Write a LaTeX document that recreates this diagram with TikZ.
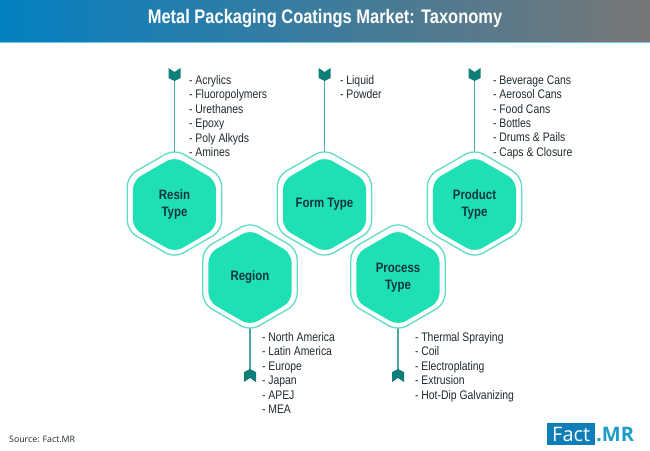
\documentclass[tikz,border=0pt]{standalone}
\usepackage{fontspec}
\setmainfont[FakeStretch=0.84]{Liberation Sans}
\newfontfamily\logofont{Open Sans}
\usetikzlibrary{shapes.geometric,backgrounds}
\definecolor{hexfill}{HTML}{1FE0B5}
\definecolor{hexline}{HTML}{5FDCC4}
\definecolor{stem}{HTML}{4FA6A4}
\definecolor{markc}{HTML}{0E7F78}
\definecolor{hextext}{HTML}{12353A}
\definecolor{listtext}{HTML}{1E2A30}
\definecolor{bandl}{HTML}{0480C2}
\definecolor{bandr}{HTML}{777777}
\definecolor{bandedge}{HTML}{70C8EE}
\definecolor{logoblue}{HTML}{0F7DB8}
\definecolor{logoteal}{HTML}{1C9CC8}
\tikzset{
  x=1pt,y=-1pt,
  hexouter/.style={regular polygon,regular polygon sides=6,shape border rotate=30,
    minimum size=109pt,inner sep=0pt,outer sep=0pt,draw=hexline,line width=1.3pt,fill=white,rounded corners=10pt},
  hexinner/.style={regular polygon,regular polygon sides=6,shape border rotate=30,
    minimum size=96pt,inner sep=0pt,outer sep=0pt,fill=hexfill,rounded corners=9pt,
    text=hextext,align=center,font=\fontsize{13.6}{17.5}\selectfont\bfseries},
  listnode/.style={anchor=north west,inner sep=0pt,outer sep=0pt,align=left,text=listtext,
    font=\fontsize{12.4}{14.45}\selectfont},
  stemline/.style={draw=stem,line width=1.8pt},
  markdown/.pic={\fill[markc] (-6,-7) -- (0,-3) -- (6,-7) -- (6,3) -- (0,6) -- (-6,3) -- cycle;},
  markup/.pic={\fill[markc] (-6,7) -- (0,3) -- (6,7) -- (6,-3) -- (0,-6) -- (-6,-3) -- cycle;},
}
\begin{document}
\begin{tikzpicture}
\useasboundingbox (0,0) rectangle (650,450);
% header
\shade[left color=bandl,right color=bandr] (0,0) rectangle (650,42);
\fill[bandedge] (0,42) rectangle (650,43);
\node[text=white,font=\fontsize{19.6}{22}\selectfont\bfseries] (title) at (325,18) {Metal Packaging Coatings Market: Taxonomy};
% hexagons
\node[hexouter] (resinO) at (174.5,203.5) {};
\node[hexinner] (resin) at (174.5,204.5) {Resin\\Type};
\node[hexouter] (formO) at (324.5,203.5) {};
\node[hexinner] (form) at (324.5,204.5) {Form Type};
\node[hexouter] (productO) at (474.5,203.5) {};
\node[hexinner] (product) at (474.5,204.5) {Product\\Type};
\node[hexouter] (regionO) at (250,276.5) {};
\node[hexinner] (region) at (250,277.5) {Region};
\node[hexouter] (processO) at (398,276.5) {};
\node[hexinner] (process) at (398,277.5) {Process\\Type};
% markers
\coordinate (resinM) at (174.5,75);
\coordinate (formM) at (324.5,75);
\coordinate (productM) at (474.5,75);
\coordinate (regionM) at (250,375);
\coordinate (processM) at (398,375);
\begin{scope}[on background layer]
\draw[stemline] (resinM) -- (resinO.center);
\draw[stemline] (formM) -- (formO.center);
\draw[stemline] (productM) -- (productO.center);
\draw[stemline] (regionM) -- (regionO.center);
\draw[stemline] (processM) -- (processO.center);
\end{scope}
\pic at (resinM) {markdown};
\pic at (formM) {markdown};
\pic at (productM) {markdown};
\pic at (regionM) {markup};
\pic at (processM) {markup};
% lists
\node[listnode] (resinL) at (189,75.5) {- Acrylics\\- Fluoropolymers\\- Urethanes\\- Epoxy\\- Poly Alkyds\\- Amines};
\node[listnode] (formL) at (340,75.5) {- Liquid\\- Powder};
\node[listnode] (productL) at (493,75.5) {- Beverage Cans\\- Aerosol Cans\\- Food Cans\\- Bottles\\- Drums \& Pails\\- Caps \& Closure};
\node[listnode] (regionL) at (262,332.5) {- North America\\- Latin America\\- Europe\\- Japan\\- APEJ\\- MEA};
\node[listnode] (processL) at (415,332.5) {- Thermal Spraying\\- Coil\\- Electroplating\\- Extrusion\\- Hot-Dip Galvanizing};
% footer
\node[anchor=west,inner sep=0pt,text=listtext,font=\logofont\fontsize{8.8}{11}\selectfont] (source) at (9,439) {Source: Fact.MR};
\node[anchor=west,fill=logoblue,text=white,inner sep=0pt,minimum width=48pt,minimum height=22pt,font=\logofont\fontsize{20}{22}\selectfont] (logoa) at (547,434) {Fact};
\node[anchor=west,inner sep=0pt,text=logoteal,font=\logofont\fontsize{20}{22}\selectfont\bfseries] (logob) at (596,434) {.MR};
\end{tikzpicture}
\end{document}
